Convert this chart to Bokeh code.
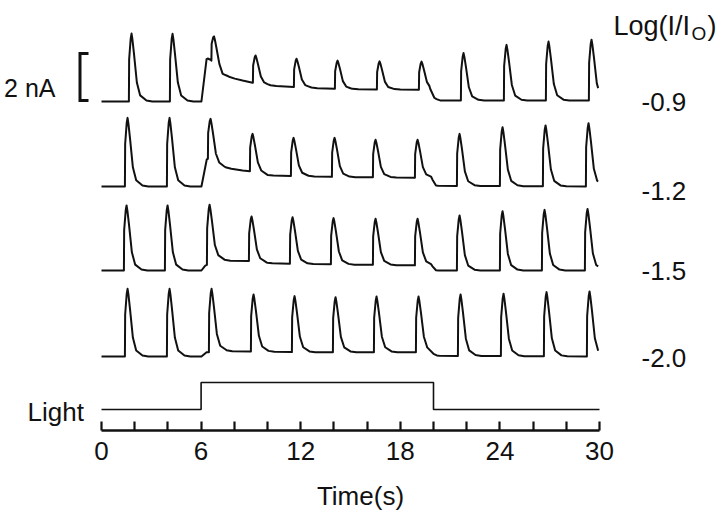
import numpy as np
from bokeh.plotting import figure
from bokeh.models import Range1d, FixedTicker
from bokeh.embed import file_html
from bokeh.resources import INLINE
from bokeh.core.properties import value

# ---------------- data ----------------
levels = ["-0.9", "-1.2", "-1.5", "-2.0"]          # Log(I/Io) of each trace
x_ticks = [0, 6, 12, 18, 24, 30]
x_minor = [2, 4, 8, 10, 14, 16, 20, 22, 26, 28]

light_t = [0.0, 6.0, 6.0, 20.0, 20.0, 30.0]
light_on = [0, 0, 1, 1, 0, 0]

scale_bar_nA = 2.0
trace_end = 29.92

# spike peak times (s) and peak currents (nA, above dark baseline)
spk_t_09 = [1.81, 4.28, 6.78, 9.28, 11.75, 14.22, 16.75, 19.28, 21.81, 24.40, 26.93, 29.52]
spk_p_09 = [2.89, 2.88, 2.77, 1.96, 1.82, 1.74, 1.71, 1.70, 2.06, 2.41, 2.55, 2.63]
spk_t_12 = [1.57, 4.10, 6.57, 9.10, 11.57, 14.04, 16.51, 19.04, 21.57, 24.16, 26.75, 29.34]
spk_p_12 = [2.92, 2.92, 2.88, 2.24, 2.07, 2.07, 1.99, 1.99, 2.24, 2.52, 2.60, 2.69]
spk_t_15 = [1.51, 3.98, 6.51, 9.04, 11.51, 13.98, 16.51, 19.04, 21.57, 24.16, 26.69, 29.28]
spk_p_15 = [2.77, 2.77, 2.80, 2.30, 2.27, 2.23, 2.20, 2.20, 2.34, 2.52, 2.58, 2.62]
spk_t_20 = [1.57, 4.10, 6.63, 9.16, 11.63, 14.10, 16.57, 19.10, 21.63, 24.22, 26.81, 29.40]
spk_p_20 = [2.88, 2.88, 2.88, 2.64, 2.57, 2.52, 2.55, 2.55, 2.64, 2.67, 2.74, 2.77]

# slow (light-induced) current between spikes: times (s) and level (nA)
base_t_09 = [0, 6.02, 6.33, 6.40, 6.60, 7.30, 7.60, 8.50, 9.10, 10.0, 12.5, 15.0, 19.75, 20.05, 20.4, 30]
base_i_09 = [0, 0.00, 1.80, 1.83, 1.76, 1.07, 1.05, 0.89, 0.80, 0.68, 0.58, 0.52, 0.50, 0.11, 0.04, 0.04]
base_t_12 = [0, 6.02, 6.34, 6.42, 6.90, 7.40, 8.50, 9.00, 10.0, 12.0, 14.5, 19.85, 20.15, 30]
base_i_12 = [0, 0.00, 1.15, 1.18, 0.90, 0.80, 0.68, 0.65, 0.47, 0.44, 0.40, 0.37, 0.03, 0.0]
base_t_15 = [0, 6.02, 6.25, 7.00, 9.00, 10.0, 12.0, 14.0, 19.85, 20.15, 30]
base_i_15 = [0, 0.00, 0.21, 0.43, 0.40, 0.31, 0.28, 0.26, 0.21, 0.00, 0.0]
base_t_20 = [0, 6.02, 6.33, 7.50, 9.50, 12.0, 19.6, 20.2, 30]
base_i_20 = [0, 0.00, 0.18, 0.23, 0.21, 0.18, 0.18, 0.03, 0.0]

# shape of one spike: time from peak (s), fraction of amplitude
spike_dt = [-0.16, -0.145, -0.05, 0.0, 0.05, 0.14, 0.32, 0.52, 0.9, 1.25]
spike_f = [0.0, 0.62, 0.93, 1.0, 0.92, 0.72, 0.28, 0.09, 0.015, 0.0]

traces = [
    (spk_t_09, spk_p_09, base_t_09, base_i_09),
    (spk_t_12, spk_p_12, base_t_12, base_i_12),
    (spk_t_15, spk_p_15, base_t_15, base_i_15),
    (spk_t_20, spk_p_20, base_t_20, base_i_20),
]

# ---------------- layout (pixel geometry of the page) ----------------
W, H = 720, 516
PX0, PX_PER_S = 101.0, 16.6     # x pixel of t=0, pixels per second
PY0, PY_PER_NA = 430.0, 23.5    # y pixel of time axis, pixels per nA


def px2t(px):
    return (px - PX0) / PX_PER_S


def py2y(py):
    return (PY0 - py) / PY_PER_NA


trace_base_py = [101, 186, 270, 356]
light_low_py, light_high_py = 409, 382
INK = "#111111"
FONT = "Liberation Sans"


def build_trace(spk_t, spk_p, bt, bi):
    verts = {0.0, trace_end}
    verts.update(t for t in bt if 0 <= t <= trace_end)
    for t0 in spk_t:
        verts.update(t0 + d for d in spike_dt if 0 <= t0 + d <= trace_end)
    tt = np.array(sorted(verts))
    yy = np.interp(tt, bt, bi)
    for t0, pk in zip(spk_t, spk_p):
        amp = pk - np.interp(t0, bt, bi)
        yy = yy + amp * np.interp(tt - t0, spike_dt, spike_f, left=0.0, right=0.0)
    return tt, yy


p = figure(width=W, height=H,
           x_range=Range1d(px2t(0), px2t(W)),
           y_range=Range1d(py2y(PY0), py2y(0)),
           min_border_left=0, min_border_right=0, min_border_top=0,
           min_border_bottom=int(H - PY0),
           y_axis_location=None, x_axis_location="below",
           output_backend="svg", toolbar_location=None)
p.outline_line_color = None
p.xgrid.visible = False
p.ygrid.visible = False
p.background_fill_color = "white"
p.border_fill_color = "white"

# traces
for (st, sp, bt, bi), bpy in zip(traces, trace_base_py):
    tt, yy = build_trace(st, sp, bt, bi)
    p.line(tt, yy + py2y(bpy), line_color=INK, line_width=2.0, line_join="round")

# light monitor
lb = py2y(light_low_py)
ls = py2y(light_high_py) - lb
p.line(light_t, [lb + v * ls for v in light_on], line_color=INK, line_width=1.6)

# scale bar "[" of 2 nA
y_bot = py2y(100)
bx = px2t(79.5)
bw = 8.5 / PX_PER_S
p.line([bx + bw, bx, bx, bx + bw], [y_bot + scale_bar_nA, y_bot + scale_bar_nA, y_bot, y_bot],
       line_color=INK, line_width=3, line_join="miter")
p.text(x=[px2t(55)], y=[py2y(87)], text=["2 nA"], text_align="right",
       text_baseline="alphabetic", text_font=value(FONT), text_font_size="25px", text_color=INK)

# Light label
p.text(x=[px2t(27)], y=[py2y(411)], text=["Light"], text_align="left",
       text_baseline="alphabetic", text_font=value(FONT), text_font_size="26px", text_color=INK)

# level labels
p.text(x=[px2t(641)] * 4, y=[py2y(b) for b in (101, 190, 270, 357)], text=levels, text_align="left",
       text_baseline="alphabetic", text_font=value(FONT), text_font_size="26px", text_color=INK)

# Log(I/Io) header
lx = 613
p.text(x=[px2t(lx)], y=[py2y(25)], text=["Log(I/I"], text_align="left",
       text_baseline="alphabetic", text_font=value(FONT), text_font_size="27px", text_color=INK)
p.text(x=[px2t(lx + 78)], y=[py2y(33)], text=["O"], text_align="left",
       text_baseline="alphabetic", text_font=value(FONT), text_font_size="19px", text_color=INK)
p.text(x=[px2t(lx + 94)], y=[py2y(25)], text=[")"], text_align="left",
       text_baseline="alphabetic", text_font=value(FONT), text_font_size="27px", text_color=INK)

# x axis
ax = p.xaxis[0]
ax.ticker = FixedTicker(ticks=x_ticks, minor_ticks=x_minor)
ax.bounds = (0, 30)
ax.axis_line_width = 2.6
ax.axis_line_color = INK
ax.major_tick_in = 9
ax.major_tick_out = 0
ax.minor_tick_in = 9
ax.minor_tick_out = 0
ax.major_tick_line_width = 2.2
ax.minor_tick_line_width = 2.2
ax.major_tick_line_color = INK
ax.minor_tick_line_color = INK
ax.major_label_text_font = FONT
ax.major_label_text_font_size = "26px"
ax.major_label_text_color = INK
ax.major_label_standoff = 11
ax.axis_label = "Time(s)"
ax.axis_label_text_font = FONT
ax.axis_label_text_font_size = "26px"
ax.axis_label_text_font_style = "normal"
ax.axis_label_text_color = INK
ax.axis_label_standoff = 18

open("out.html", "w").write(file_html(p, INLINE))
